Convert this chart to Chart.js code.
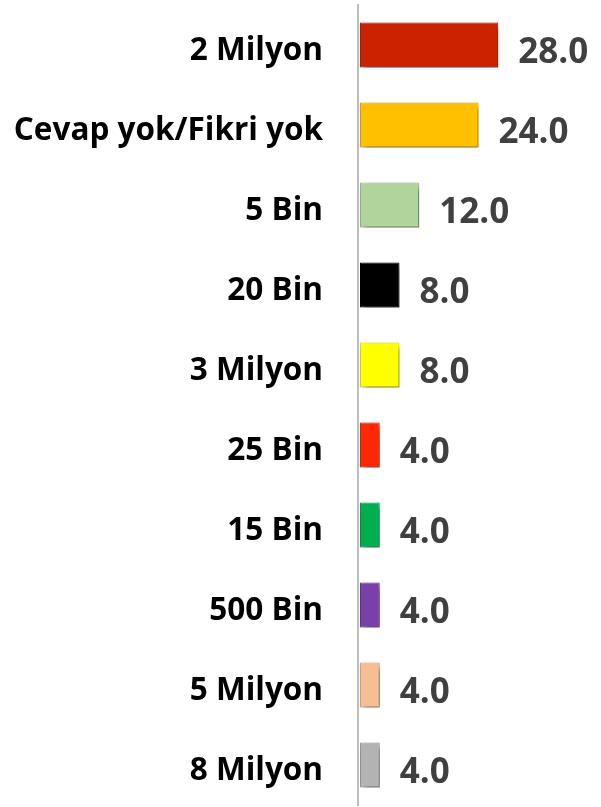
<!DOCTYPE html>
<html>
<head>
<meta charset="utf-8">
<script src="https://cdn.jsdelivr.net/npm/chart.js@4"></script>
<style>
  html, body { margin:0; padding:0; background:#fff; }
  #wrap { width:601px; height:807px; }
</style>
</head>
<body>
<div id="wrap"><canvas id="c" width="601" height="807"></canvas></div>
<script>
const categories = ["2 Milyon", "Cevap yok/Fikri yok", "5 Bin", "20 Bin", "3 Milyon", "25 Bin", "15 Bin", "500 Bin", "5 Milyon", "8 Milyon"];
const values = [28.0, 24.0, 12.0, 8.0, 8.0, 4.0, 4.0, 4.0, 4.0, 4.0];
const barColors = ["#CC2200", "#FFC000", "#B0D49B", "#000000", "#FFFF00", "#FF2800", "#00B050", "#7B3FAA", "#F5BF93", "#B3B3B3"];
const barBorders = ["#B01E00", "#E0A800", "#98BC84", "#000000", "#E0E000", "#E02200", "#009A45", "#6A3494", "#DDA87D", "#9C9C9C"];

const shadowPlugin = {
  id: 'barShadow',
  beforeDatasetDraw(chart) {
    const ctx = chart.ctx;
    ctx.save();
    ctx.shadowColor = 'rgba(0,0,0,0.5)';
    ctx.shadowBlur = 6;
    ctx.shadowOffsetX = 3;
    ctx.shadowOffsetY = 4;
  },
  afterDatasetDraw(chart) {
    chart.ctx.restore();
  }
};

const valueLabels = {
  id: 'valueLabels',
  afterDatasetsDraw(chart) {
    const ctx = chart.ctx;
    const meta = chart.getDatasetMeta(0);
    ctx.save();
    ctx.font = 'bold 35px "Open Sans"';
    ctx.fillStyle = '#404040';
    ctx.textAlign = 'left';
    ctx.textBaseline = 'alphabetic';
    meta.data.forEach((bar, i) => {
      ctx.fillText(values[i].toFixed(1), bar.x + 20, bar.y + 18);
    });
    ctx.restore();
  }
};

new Chart(document.getElementById('c'), {
  type: 'bar',
  data: {
    labels: categories,
    datasets: [{
      data: values,
      backgroundColor: barColors,
      borderColor: barBorders,
      borderWidth: 1,
      borderSkipped: false,
      categoryPercentage: 1.0,
      barPercentage: 0.5625
    }]
  },
  options: {
    indexAxis: 'y',
    responsive: false,
    animation: false,
    devicePixelRatio: 1,
    layout: { padding: { top: 5, bottom: 2, left: 0, right: 4 } },
    plugins: { legend: { display: false }, tooltip: { enabled: false } },
    scales: {
      x: {
        display: false,
        min: -0.4,
        max: 48
      },
      y: {
        afterFit(scale) {
          scale.width = 358;
          scale.paddingTop = 0;
          scale.paddingBottom = 0;
        },
        grid: { display: false, drawTicks: false },
        border: { display: true, color: '#BEBEBE', width: 2 },
        ticks: {
          color: '#000000',
          font: { family: '"Open Sans"', size: 31.5, weight: 'bold' },
          padding: 35,
          labelOffset: 6
        }
      }
    }
  },
  plugins: [shadowPlugin, valueLabels]
});
</script>
</body>
</html>
